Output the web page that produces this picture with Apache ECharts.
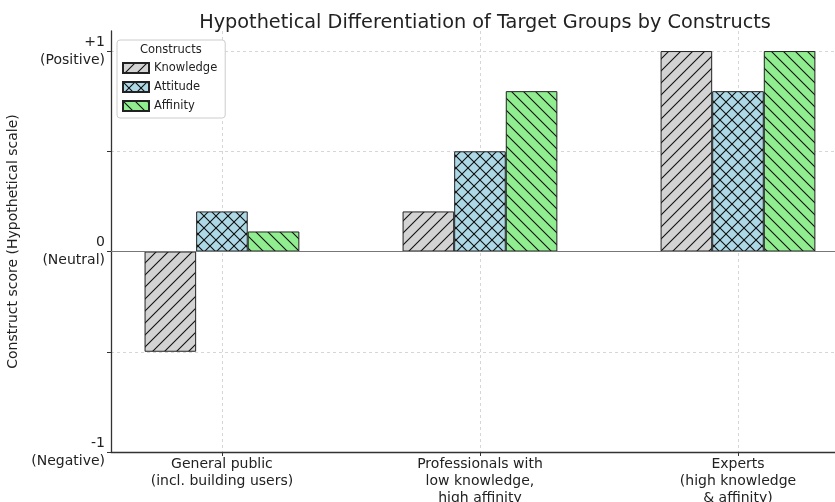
<!DOCTYPE html>
<html>
<head>
<meta charset="utf-8">
<script src="https://cdn.jsdelivr.net/npm/echarts@6/dist/echarts.min.js"></script>
<style>
  html, body { margin: 0; padding: 0; background: #fff; }
  #chart { width: 835px; height: 502px; }
</style>
</head>
<body>
<div id="chart"></div>
<script>
// data
const categories = [
  'General public\n(incl. building users)',
  'Professionals with\nlow knowledge,\nhigh affinity',
  'Experts\n(high knowledge\n& affinity)'
]
const seriesNames = ['Knowledge', 'Attitude', 'Affinity']
const knowledge = [-0.5, 0.2, 1.0]
const attitude = [0.2, 0.5, 0.8]
const affinity = [0.1, 0.8, 1.0]
const yGridValues = [-1, -0.5, 0, 0.5, 1]
const yLabelValues = [-1, 0, 1]
const yTickLabels = ['-1\n(Negative)', '0\n(Neutral)', '+1\n(Positive)']

const font = 'DejaVu Sans'
const ink = '#222'

// hatch fills like matplotlib's '/', 'x', '\\'
function hatch(bg, kind, size) {
  const c = document.createElement('canvas')
  c.width = size
  c.height = size
  const ctx = c.getContext('2d')
  ctx.fillStyle = bg
  ctx.fillRect(0, 0, size, size)
  ctx.strokeStyle = '#111'
  ctx.lineWidth = 1.1
  const slash = () => {
    ctx.beginPath()
    ctx.moveTo(-2, size + 2); ctx.lineTo(size + 2, -2)
    ctx.moveTo(-2, 2); ctx.lineTo(2, -2)
    ctx.moveTo(size - 2, size + 2); ctx.lineTo(size + 2, size - 2)
    ctx.stroke()
  }
  const back = () => {
    ctx.beginPath()
    ctx.moveTo(-2, -2); ctx.lineTo(size + 2, size + 2)
    ctx.moveTo(size - 2, -2); ctx.lineTo(size + 2, 2)
    ctx.moveTo(-2, size - 2); ctx.lineTo(2, size + 2)
    ctx.stroke()
  }
  if (kind === '/' || kind === 'x') slash()
  if (kind === '\\' || kind === 'x') back()
  return { image: c, repeat: 'repeat' }
}

const fills = [
  hatch('#d3d3d3', '/', 12),
  hatch('#add8e6', 'x', 12),
  hatch('#90ee90', '\\', 12)
]
const values = [knowledge, attitude, affinity]

const chart = echarts.init(document.getElementById('chart'))

const series = seriesNames.map((name, i) => ({
  name: name,
  type: 'bar',
  barWidth: 51.6,
  barGap: '0%',
  data: values[i].map((v, k) => [k, v]),
  itemStyle: { color: fills[i], borderColor: ink, borderWidth: 1 },
  emphasis: { disabled: true },
  markLine: i === 0 ? {
    silent: true,
    symbol: 'none',
    label: { show: false },
    lineStyle: { color: '#777', type: 'solid', width: 1.2 },
    data: [{ yAxis: 0 }]
  } : undefined
}))

const option = {
  animation: false,
  textStyle: { fontFamily: font },
  title: {
    text: 'Hypothetical Differentiation of Target Groups by Constructs',
    left: 480,
    top: 8,
    textAlign: 'center',
    textStyle: { fontFamily: font, fontSize: 19.3, fontWeight: 'normal', color: ink }
  },
  legend: {
    orient: 'vertical',
    left: 117,
    top: 40,
    icon: 'rect',
    itemWidth: 26,
    itemHeight: 10,
    itemGap: 7,
    padding: [22, 8, 6, 5],
    backgroundColor: '#fff',
    borderColor: '#ccc',
    borderWidth: 1,
    borderRadius: 3,
    textStyle: { fontFamily: font, fontSize: 11.5, color: ink },
    data: seriesNames
  },
  graphic: [{
    type: 'text',
    z: 100,
    left: 140,
    top: 44,
    style: { text: 'Constructs', font: '11.5px "DejaVu Sans"', fill: ink }
  }],
  grid: { left: 111, right: 0, top: 31, bottom: 50, outerBoundsMode: 'none' },
  xAxis: {
    type: 'value',
    min: -0.43,
    max: 2.376,
    axisLine: { onZero: false, lineStyle: { color: '#333', width: 1.3 } },
    axisTick: { customValues: [0, 1, 2], length: 4, lineStyle: { color: '#333' } },
    splitLine: { show: true, lineStyle: { color: '#ccc', type: [3, 3], width: 0.8 } },
    axisLabel: {
      customValues: [0, 1, 2],
      formatter: v => categories[Math.round(v)],
      fontFamily: font,
      fontSize: 14,
      lineHeight: 17,
      color: ink,
      margin: 4
    }
  },
  yAxis: {
    type: 'value',
    min: -1,
    max: 1.1,
    name: 'Construct score (Hypothetical scale)',
    nameLocation: 'middle',
    nameGap: 82,
    nameTextStyle: { fontFamily: font, fontSize: 14, color: ink },
    axisLine: { show: true, onZero: false, lineStyle: { color: '#333', width: 1.3 } },
    axisTick: { show: true, customValues: yGridValues, length: 4, lineStyle: { color: '#333' } },
    splitLine: { show: true, lineStyle: { color: '#ccc', type: [3, 3], width: 0.8 } },
    axisLabel: {
      customValues: yLabelValues,
      formatter: v => yTickLabels[yLabelValues.indexOf(Math.round(v))],
      fontFamily: font,
      fontSize: 14,
      lineHeight: 18,
      color: ink,
      margin: 6,
      padding: [6, 0, 0, 0]
    }
  },
  series: series
}

chart.setOption(option)
</script>
</body>
</html>
